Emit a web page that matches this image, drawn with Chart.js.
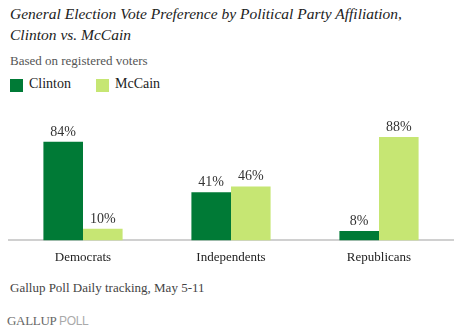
<!DOCTYPE html>
<html>
<head>
<meta charset="utf-8">
<script src="https://cdn.jsdelivr.net/npm/chart.js@4"></script>
<style>
  body { margin: 0; background: #fff; }
  #wrap { position: relative; width: 460px; height: 332px; overflow: hidden; font-family: "Liberation Serif", serif; }
  .title { position: absolute; left: 10px; font-style: italic; font-size: 15.5px; color: #222; white-space: nowrap; }
  .sub { position: absolute; left: 10px; top: 53px; font-size: 13px; color: #555; }
  .ley { position: absolute; top: 76px; font-family: "Liberation Serif", serif; font-size: 14px; color: #222; }
  .ley i { position: absolute; top: 3px; width: 13px; height: 13px; }
  .note { position: absolute; left: 10px; top: 280px; font-size: 13px; color: #444; }
  .logo { position: absolute; left: 7px; top: 313px; font-size: 13px; color: #666; letter-spacing: -0.3px; }
  .logo span { font-family: "Liberation Sans", sans-serif; color: #aaa; font-size: 12px; }
  #box { position: absolute; left: 0; top: 110px; width: 460px; height: 167px; }
</style>
</head>
<body>
<div id="wrap">
  <div class="title" style="top:5px">General Election Vote Preference by Political Party Affiliation,</div>
  <div class="title" style="top:26px">Clinton vs. McCain</div>
  <div class="sub">Based on registered voters</div>
  <div class="ley" style="left:10px"><i style="left:0;background:#007a36"></i><span style="margin-left:19px">Clinton</span></div>
  <div class="ley" style="left:96px"><i style="left:0;background:#c6e673"></i><span style="margin-left:19px">McCain</span></div>
  <div id="box"><canvas id="grafico"></canvas></div>
  <div class="note">Gallup Poll Daily tracking, May 5-11</div>
  <div class="logo">GALLUP <span>POLL</span></div>
</div>
<script>
const partidos = ['Democrats', 'Independents', 'Republicans'];
const clinton = [84, 41, 8];
const mccain = [10, 46, 88];

Chart.defaults.font.family = '"Liberation Serif", serif';

// writes the percentage above each bar
const etiquetas = {
  id: 'etiquetas',
  afterDatasetsDraw(chart) {
    const ctx = chart.ctx;
    ctx.save();
    ctx.font = '14px "Liberation Serif", serif';
    ctx.fillStyle = '#333';
    ctx.textAlign = 'center';
    ctx.textBaseline = 'alphabetic';
    chart.data.datasets.forEach((ds, i) => {
      chart.getDatasetMeta(i).data.forEach((bar, j) => {
        ctx.fillText(ds.data[j] + '%', bar.x, bar.y - 6);
      });
    });
    ctx.restore();
  }
};

const ctx = document.getElementById('grafico').getContext('2d');
const grafico = new Chart(ctx, {
  type: 'bar',
  data: {
    labels: partidos,
    datasets: [{
      label: 'Clinton',
      data: clinton,
      backgroundColor: '#007a36'
    }, {
      label: 'McCain',
      data: mccain,
      backgroundColor: '#c6e673'
    }]
  },
  options: {
    responsive: true,
    maintainAspectRatio: false,
    animation: false,
    layout: { padding: { left: 9, right: 7, top: 13, bottom: 3 } },
    datasets: { bar: { barPercentage: 1, categoryPercentage: 0.535 } },
    plugins: {
      legend: { display: false },
      tooltip: { enabled: false }
    },
    scales: {
      x: {
        grid: { display: false, drawTicks: false },
        border: { color: '#d0d0d0', width: 2 },
        ticks: { color: '#222', padding: 9, font: { size: 13 } }
      },
      y: {
        display: false,
        min: 0,
        max: 100
      }
    }
  },
  plugins: [etiquetas]
});
</script>
</body>
</html>
